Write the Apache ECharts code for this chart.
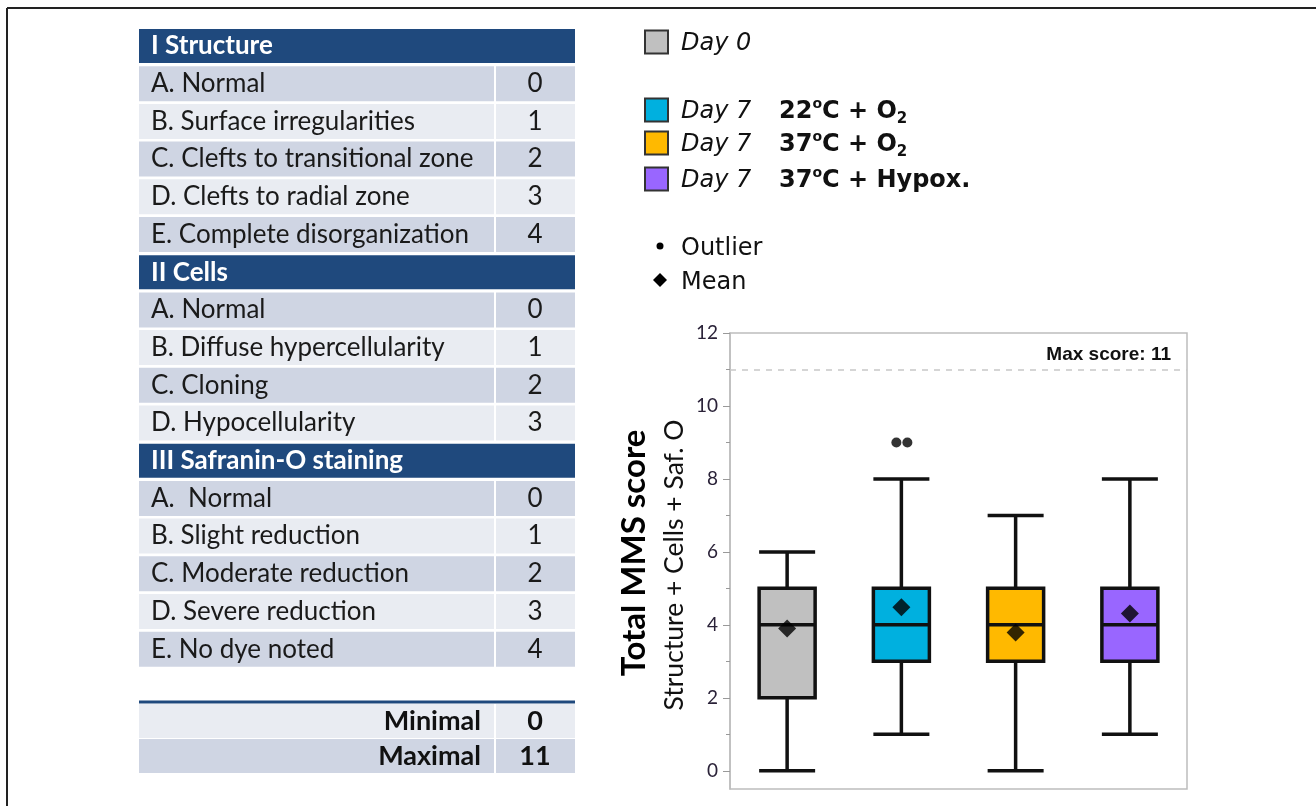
<!DOCTYPE html>
<html>
<head>
<meta charset="utf-8">
<script src="https://cdn.jsdelivr.net/npm/echarts@6/dist/echarts.min.js"></script>
<style>
  html, body { margin: 0; padding: 0; background: #fff; }
  #chart { width: 1316px; height: 806px; }
</style>
</head>
<body>
<div id="chart"></div>
<script>
// scoring table
const sectionTitles = ['I Structure', 'II Cells', 'III Safranin-O staining'];
const structureItems = ['A. Normal', 'B. Surface irregularities', 'C. Clefts to transitional zone', 'D. Clefts to radial zone', 'E. Complete disorganization'];
const structureScores = [0, 1, 2, 3, 4];
const cellItems = ['A. Normal', 'B. Diffuse hypercellularity', 'C. Cloning', 'D. Hypocellularity'];
const cellScores = [0, 1, 2, 3];
const safraninItems = ['A.  Normal', 'B. Slight reduction', 'C. Moderate reduction', 'D. Severe reduction', 'E. No dye noted'];
const safraninScores = [0, 1, 2, 3, 4];
const summaryLabels = ['Minimal', 'Maximal'];
const summaryScores = [0, 11];

// groups / legend
const groupDays = ['Day 0', 'Day 7', 'Day 7', 'Day 7'];
const groupConditions = ['', '{b|22}{sup|o}{b|C + O}{sub|2}', '{b|37}{sup|o}{b|C + O}{sub|2}', '{b|37}{sup|o}{b|C + Hypox.}'];
const groupColors = ['#c0c0c0', '#00b0df', '#ffb900', '#9966ff'];

// box plot values
const boxMin = [0, 1, 0, 1];
const boxQ1 = [2, 3, 3, 3];
const boxMedian = [4, 4, 4, 4];
const boxQ3 = [5, 5, 5, 5];
const boxMax = [6, 8, 7, 8];
const groupMeans = [3.9, 4.48, 3.79, 4.31];
const outlierGroup = [1, 1];
const outlierValues = [9, 9];
const maxScore = 11;
const yMajorTicks = [0, 2, 4, 6, 8, 10, 12];
const yMinorTicks = [1, 3, 5, 7, 9, 11];

const chart = echarts.init(document.getElementById('chart'));

const tableFont = 'Lato';
const navy = '#1f497d';
const darkRow = '#cfd5e3';
const lightRow = '#e9ecf2';
const graphics = [];

// frame of the figure
graphics.push({ type: 'line', shape: { x1: 7, y1: 8, x2: 1316, y2: 8 }, style: { stroke: '#222', lineWidth: 2 } });
graphics.push({ type: 'line', shape: { x1: 7, y1: 8, x2: 7, y2: 806 }, style: { stroke: '#222', lineWidth: 2 } });

// table rows
const tLeft = 139, tRight = 575, vLeft = 496, vCenter = 535;
const rows = [];
[[structureItems, structureScores], [cellItems, cellScores], [safraninItems, safraninScores]].forEach(([items, scores], s) => {
  rows.push({ header: sectionTitles[s] });
  items.forEach((t, i) => rows.push({ text: t, score: scores[i], shade: i % 2 === 0 ? darkRow : lightRow }));
});
rows.forEach((r, i) => {
  const cy = 46 + i * 37.7;
  if (r.header) {
    graphics.push({ type: 'rect', shape: { x: tLeft, y: cy - 17, width: tRight - tLeft, height: 34 }, style: { fill: navy } });
    graphics.push({ type: 'text', x: 151, y: cy, style: { text: r.header, fill: '#fff', font: 'bold 26px ' + tableFont, verticalAlign: 'middle' } });
  } else {
    graphics.push({ type: 'rect', shape: { x: tLeft, y: cy - 17.5, width: vLeft - 2 - tLeft, height: 35 }, style: { fill: r.shade } });
    graphics.push({ type: 'rect', shape: { x: vLeft, y: cy - 17.5, width: tRight - vLeft, height: 35 }, style: { fill: r.shade } });
    graphics.push({ type: 'text', x: 151, y: cy, style: { text: r.text, fill: '#1a1a1a', font: '26px ' + tableFont, verticalAlign: 'middle' } });
    graphics.push({ type: 'text', x: vCenter, y: cy, style: { text: String(r.score), fill: '#1a1a1a', font: '26px ' + tableFont, align: 'center', verticalAlign: 'middle' } });
  }
});
graphics.push({ type: 'line', shape: { x1: tLeft, y1: 702, x2: tRight, y2: 702 }, style: { stroke: navy, lineWidth: 3 } });
summaryLabels.forEach((lab, i) => {
  const cy = 721 + i * 35;
  const shade = i === 0 ? lightRow : darkRow;
  graphics.push({ type: 'rect', shape: { x: tLeft, y: cy - 17, width: vLeft - 2 - tLeft, height: 34 }, style: { fill: shade } });
  graphics.push({ type: 'rect', shape: { x: vLeft, y: cy - 17, width: tRight - vLeft, height: 34 }, style: { fill: shade } });
  graphics.push({ type: 'text', x: 481, y: cy, style: { text: lab, fill: '#111', font: 'bold 27px ' + tableFont, align: 'right', verticalAlign: 'middle' } });
  graphics.push({ type: 'text', x: vCenter, y: cy, style: { text: String(summaryScores[i]), fill: '#111', font: 'bold 27px ' + tableFont, align: 'center', verticalAlign: 'middle' } });
});

// legend
const legendY = [42, 110, 143, 179];
const legendFont = '"DejaVu Sans"';
groupDays.forEach((d, i) => {
  const cy = legendY[i];
  graphics.push({ type: 'rect', shape: { x: 645, y: cy - 11.5, width: 23, height: 23 }, style: { fill: groupColors[i], stroke: '#333', lineWidth: 2 } });
  graphics.push({ type: 'text', x: 681, y: cy + 2, style: { text: d, fill: '#111', font: 'italic 24px ' + legendFont, verticalAlign: 'middle' } });
  if (groupConditions[i]) {
    graphics.push({
      type: 'text', x: 779, y: cy + 2,
      style: {
        text: groupConditions[i], verticalAlign: 'middle', fill: '#111',
        rich: {
          b: { fontFamily: legendFont, fontWeight: 'bold', fontSize: 24, lineHeight: 30, fill: '#111' },
          sup: { fontFamily: legendFont, fontWeight: 'bold', fontSize: 14, lineHeight: 20, verticalAlign: 'top', fill: '#111' },
          sub: { fontFamily: legendFont, fontWeight: 'bold', fontSize: 15, lineHeight: 14, verticalAlign: 'bottom', fill: '#111' }
        }
      }
    });
  }
});
graphics.push({ type: 'circle', shape: { cx: 660, cy: 246, r: 3.5 }, style: { fill: '#000' } });
graphics.push({ type: 'text', x: 681, y: 249, style: { text: 'Outlier', fill: '#111', font: '24px ' + legendFont, verticalAlign: 'middle' } });
graphics.push({ type: 'polygon', shape: { points: [[660, 273], [667, 280], [660, 287], [653, 280]] }, style: { fill: '#000' } });
graphics.push({ type: 'text', x: 681, y: 283, style: { text: 'Mean', fill: '#111', font: '24px ' + legendFont, verticalAlign: 'middle' } });

// y axis titles
graphics.push({ type: 'text', x: 634, y: 553, rotation: Math.PI / 2, style: { text: 'Total MMS score', fill: '#000', font: 'bold 33px ' + tableFont, align: 'center', verticalAlign: 'middle' } });
graphics.push({ type: 'text', x: 674, y: 565, rotation: Math.PI / 2, style: { text: 'Structure + Cells + Saf. O', fill: '#111', font: '26.5px ' + tableFont, align: 'center', verticalAlign: 'middle' } });

const boxData = boxMin.map((m, i) => ({
  value: [m, boxQ1[i], boxMedian[i], boxQ3[i], boxMax[i]],
  itemStyle: { color: groupColors[i] }
}));

const option = {
  animation: false,
  graphic: graphics,
  grid: {
    left: 730, right: 129, top: 333, bottom: 17,
    show: true, borderColor: '#bdbdbd', borderWidth: 1.5, backgroundColor: 'transparent'
  },
  xAxis: {
    type: 'category',
    data: groupDays.map((d, i) => d + i),
    axisLine: { show: false },
    axisTick: { show: false },
    axisLabel: { show: false },
    splitLine: { show: false }
  },
  yAxis: [
    {
      type: 'value', min: -0.5, max: 12,
      axisLine: { show: true, lineStyle: { color: '#bdbdbd', width: 1.5 } },
      axisTick: { show: true, length: 7, customValues: yMajorTicks, lineStyle: { color: '#999' } },
      axisLabel: { customValues: yMajorTicks, color: '#2a2238', fontFamily: tableFont, fontSize: 19, margin: 12 },
      splitLine: { show: false }
    },
    {
      type: 'value', min: -0.5, max: 12, position: 'left',
      axisLine: { show: false },
      axisTick: { show: true, length: 4, customValues: yMinorTicks, lineStyle: { color: '#999' } },
      axisLabel: { show: false },
      splitLine: { show: false }
    }
  ],
  series: [
    {
      type: 'boxplot',
      data: boxData,
      boxWidth: [56, 56],
      itemStyle: { borderColor: '#111', borderWidth: 3.5 },
      markLine: {
        silent: true,
        symbol: 'none',
        data: [{ yAxis: maxScore }],
        lineStyle: { color: '#c8c8c8', type: [6, 6], width: 1.5 },
        label: {
          position: 'insideEndTop', formatter: 'Max score: ' + maxScore,
          fontFamily: '"Liberation Sans"', fontWeight: 'bold', fontSize: 19, color: '#111',
          distance: [16, 5]
        }
      }
    },
    {
      type: 'scatter',
      symbol: 'circle',
      symbolSize: 10,
      itemStyle: { color: '#000' },
      data: outlierValues.map((v, i) => ({ value: [outlierGroup[i], v], symbolOffset: [i === 0 ? -5 : 6, 0] })),
      z: 5
    },
    {
      type: 'scatter',
      symbol: 'diamond',
      symbolSize: [18, 18],
      itemStyle: { color: '#000' },
      data: groupMeans.map((m, i) => [i, m]),
      z: 6
    }
  ]
};

chart.setOption(option);
window.addEventListener('resize', () => chart.resize());
</script>
</body>
</html>
